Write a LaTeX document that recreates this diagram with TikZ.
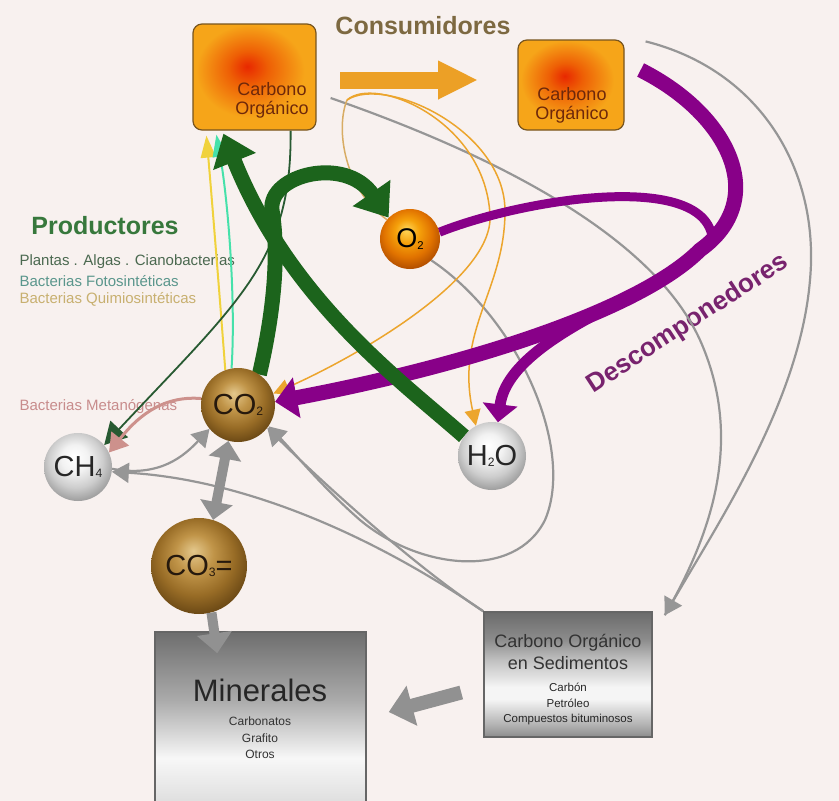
\documentclass[tikz,border=0pt]{standalone}
\usepackage{fontspec}
\setmainfont{Liberation Sans}
\usepackage{graphicx}
\usetikzlibrary{arrows.meta,calc}
\definecolor{bgc}{RGB}{248,241,239}
\definecolor{dkgreen}{RGB}{28,100,28}
\definecolor{purp}{RGB}{136,0,136}
\definecolor{orng}{RGB}{236,160,38}
\definecolor{thinor}{RGB}{236,165,45}
\definecolor{tanor}{RGB}{216,172,100}
\definecolor{graya}{RGB}{150,150,150}
\definecolor{grayb}{RGB}{145,145,145}
\definecolor{consc}{RGB}{125,105,65}
\definecolor{prodc}{RGB}{55,120,60}
\definecolor{decc}{RGB}{120,35,110}
\definecolor{yel}{RGB}{240,210,60}
\definecolor{aqua}{RGB}{70,225,170}
\definecolor{pinkc}{RGB}{205,145,140}
\definecolor{thingreen}{RGB}{40,90,50}
\definecolor{t1c}{RGB}{75,105,80}
\definecolor{t2c}{RGB}{90,150,140}
\definecolor{t3c}{RGB}{200,176,112}
\definecolor{t4c}{RGB}{200,140,140}
\definecolor{boxtc}{RGB}{110,40,10}
\definecolor{boxin}{RGB}{232,40,0}
\definecolor{boxmid}{RGB}{238,95,5}
\definecolor{boxout}{RGB}{246,165,25}
\definecolor{boxdr}{RGB}{120,85,30}
\definecolor{oc1}{RGB}{255,215,90}
\definecolor{oc2}{RGB}{245,160,10}
\definecolor{oc3}{RGB}{225,115,0}
\definecolor{oc4}{RGB}{180,80,0}
\definecolor{cc1}{RGB}{228,200,140}
\definecolor{cc2}{RGB}{192,148,72}
\definecolor{cc3}{RGB}{152,108,38}
\definecolor{cc4}{RGB}{110,75,22}
\definecolor{wc1}{RGB}{255,255,255}
\definecolor{wc2}{RGB}{242,242,242}
\definecolor{wc3}{RGB}{205,205,205}
\definecolor{wc4}{RGB}{160,160,160}
\definecolor{gm1}{gray}{0.85}
\definecolor{gm2}{gray}{0.9}
\definecolor{gm3}{gray}{0.97}
\definecolor{gm4}{gray}{0.67}
\definecolor{gm5}{gray}{0.43}
\definecolor{gs1}{gray}{0.55}
\definecolor{gs2}{gray}{0.7}
\definecolor{gs3}{gray}{0.96}
\definecolor{gs4}{gray}{0.75}
\definecolor{gs5}{gray}{0.42}
\pgfdeclareverticalshading{minshade}{100bp}{color(0bp)=(gm1); color(25bp)=(gm1); color(31bp)=(gm2); color(40bp)=(gm3); color(56bp)=(gm4); color(75bp)=(gm5); color(100bp)=(gm5)}
\pgfdeclareverticalshading{sedshade}{100bp}{color(0bp)=(gs1); color(25bp)=(gs1); color(30bp)=(gs2); color(40bp)=(gs3); color(45bp)=(gs3); color(56bp)=(gs4); color(64bp)=(gs1); color(75bp)=(gs5); color(100bp)=(gs5)}
\pgfdeclareradialshading{sphO}{\pgfpoint{-3bp}{8bp}}{color(0bp)=(oc1); color(10bp)=(oc2); color(20bp)=(oc3); color(28bp)=(oc4); color(50bp)=(oc4)}
\pgfdeclareradialshading{sphC}{\pgfpoint{-3bp}{8bp}}{color(0bp)=(cc1); color(10bp)=(cc2); color(20bp)=(cc3); color(28bp)=(cc4); color(50bp)=(cc4)}
\pgfdeclareradialshading{sphW}{\pgfpoint{-3bp}{8bp}}{color(0bp)=(wc1); color(10bp)=(wc2); color(20bp)=(wc3); color(28bp)=(wc4); color(50bp)=(wc4)}
\pgfdeclareradialshading{boxsh}{\pgfpoint{-3bp}{5bp}}{color(0bp)=(boxin); color(8bp)=(boxmid); color(22bp)=(boxout); color(50bp)=(boxout)}
\newcommand\fsz[1]{\fontsize{#1}{#1}\selectfont}
\newcommand\chs[1]{\raisebox{-0.05em}{\scalebox{0.42}{#1}}}
\pgfdeclarelayer{back}
\pgfdeclarelayer{conn}
\pgfsetlayers{back,conn,main}
\begin{document}
\begin{tikzpicture}[x=1pt,y=-1pt,
  sph/.style={circle, inner sep=0pt, font=\fsz{29}},
  topbox/.style={rectangle, rounded corners=9pt, draw=boxdr, line width=1.2pt, shading=boxsh},
  boxtxt/.style={align=center, font=\fontsize{18}{19}\selectfont, text=boxtc},
  graybox/.style={rectangle, draw=black!60, line width=1.5pt},
  garrow/.style={draw=dkgreen, line width=15pt, -{Triangle[length=30pt,width=44pt]}},
  parrow/.style={draw=purp, line width=15pt, -{Triangle[length=22pt,width=40pt]}},
  gthin/.style={draw=graya, line width=2.2pt},
  gtip/.style={-{Triangle[length=17pt,width=20pt]}},
  othin/.style={draw=thinor, line width=1.5pt},
  otip/.style={-{Triangle[length=16pt,width=16pt]}},
  gthick/.style={draw=grayb, line width=10pt},
  lefttxt/.style={anchor=west, font=\fsz{15}}
]
\begin{pgfonlayer}{back}
\fill[bgc] (0,0) rectangle (839,801);
\node[lefttxt, text=t1c] (t1) at (16,262) {Plantas . Algas . Cianobacterias};
\node[lefttxt, text=t2c] (t2) at (16,281) {Bacterias Fotosintéticas};
\node[lefttxt, text=t3c] (t3) at (16,299) {Bacterias Quimiosintéticas};
\node[lefttxt, text=t4c] (t4) at (16,407) {Bacterias Metanógenas};
\node[font=\bfseries\fsz{25}, text=prodc] (prod) at (105,226) {Productores};
\node[font=\bfseries\fsz{25}, text=consc] (cons) at (423,26) {Consumidores};
\node[rotate=33, font=\bfseries\fsz{26}, text=decc] (desc) at (688,324) {Descomponedores};
\end{pgfonlayer}
\useasboundingbox (0,0) rectangle (839,801);
\clip (0,0) rectangle (839,801);

% boxes
\node[topbox, minimum width=123pt, minimum height=106pt] (tl) at (254.5,77) {};
\node[boxtxt] (tlt) at (272,100) {Carbono\\Orgánico};
\node[topbox, minimum width=106pt, minimum height=90pt] (tr) at (571,85) {};
\node[boxtxt] (trt) at (572,105) {Carbono\\Orgánico};
\node[graybox, shading=minshade, minimum width=211pt, minimum height=180pt] (min) at (260.5,722) {};
\node[font=\fsz{31}, text=black!85] (mint) at (260,690) {Minerales};
\node[align=center, font=\fontsize{12}{16.5}\selectfont, text=black!80] (minl) at (260,738) {Carbonatos\\Grafito\\Otros};
\node[graybox, shading=sedshade, minimum width=168pt, minimum height=125pt] (sed) at (568,674.5) {};
\node[align=center, font=\fontsize{18}{22}\selectfont, text=black!80] (sedt) at (568,652) {Carbono Orgánico\\en Sedimentos};
\node[align=center, font=\fontsize{11.5}{15.5}\selectfont, text=black!85] (sedl) at (568,704) {Carbón\\Petróleo\\Compuestos bituminosos};

% spheres
\node[sph, shading=sphO, minimum size=60pt, font=\fsz{27}] (o2) at (410,239) {O\chs{2}};
\node[sph, shading=sphC, minimum size=74pt, text=black!80!brown] (co2) at (238,405) {CO\chs{2}};
\node[sph, shading=sphW, minimum size=68pt, text=black!85] (h2o) at (492,456) {H\chs{2}O};
\node[sph, shading=sphW, minimum size=68pt, text=black!85] (ch4) at (78,467) {CH\chs{4}};
\node[sph, shading=sphC, minimum size=96pt, text=black!80!brown] (co3) at (199,566) {CO\chs{3}=};

% helper coordinates
\coordinate (tlg) at ($(tl.east)+(14,21)$);
\coordinate (trg) at ($(tr.north east)+(21,2)$);
\coordinate (pst) at ($(tr.east)+(16,-15)$);
\coordinate (sedtip) at ($(sed.north east)+(12,4)$);
\coordinate (tlY) at ($(tl.south west)+(14,5)$);
\coordinate (tlA) at ($(tl.south west)+(24,4)$);
\coordinate (tlG) at ($(tl.south west)+(31,3)$);
\coordinate (tlT) at ($(tl.south east)+(-26,0)$);
\coordinate (cs) at (340,80);
\coordinate (ce) at (478,80);
\coordinate (orgA) at ($(cs)+(7,20)$);
\coordinate (minTip) at ($(min.north west)+(63,22)$);
\coordinate (sedArrowS) at ($(sed.west)+(-22,18)$);
\coordinate (minArrowE) at ($(min.east)+(22,-10)$);
\coordinate (pbr) at (636,294);

\begin{pgfonlayer}{conn}
% gray thin lines
\draw[gthin] (tlg) .. controls (480,150) and (650,230) .. (700,340) .. controls (740,430) and (720,520) .. (sedtip);
\draw[gthin, gtip] (trg) .. controls (760,70) and (820,170) .. (810,280) .. controls (800,400) and (720,520) .. (sedtip);
\draw[gthin, gtip] (o2.-45) .. controls (520,320) and (575,450) .. (545,520) .. controls (515,580) and (420,570) .. (360,520) .. controls (320,485) and (292,450) .. (co2.-35);
\draw[gthin, gtip] (sed.north west) .. controls (420,570) and (330,490) .. (co2.-38);
\draw[gthin, gtip] (sed.north west) .. controls (380,540) and (250,480) .. (ch4.-8);
\draw[gthin, gtip] (ch4.-3) .. controls (160,478) and (185,455) .. (co2.-140);
% thick gray
\draw[gthick, {Triangle[length=18pt,width=32pt]}-{Triangle[length=18pt,width=32pt]}] (co2.-105) -- (co3.73);
\draw[gthick, line width=14pt, -{Triangle[length=24pt,width=40pt]}] (sedArrowS) -- (minArrowE);
% orange thin
\draw[othin, draw=tanor] (orgA) .. controls (335,130) and (345,190) .. (o2.140);
\draw[othin, otip] (orgA) .. controls (375,75) and (485,120) .. (490,215) .. controls (494,280) and (350,360) .. (co2.18);
\draw[othin, otip] (orgA) .. controls (385,75) and (505,130) .. (505,211) .. controls (505,290) and (455,330) .. (h2o.118);
% producers thin
\draw[yel, line width=2pt, -{Triangle[length=22pt,width=15pt]}] (co2.110) .. controls (220,300) and (212,200) .. (tlY);
\draw[aqua, line width=2pt, -{Triangle[length=22pt,width=15pt]}] (co2.100) .. controls (236,300) and (228,200) .. (tlA);
\draw[thingreen, line width=1.8pt, -{Triangle[length=22pt,width=24pt]}] (tlT) .. controls (292,260) and (240,300) .. (ch4.40);
\draw[pinkc, line width=3pt, -{Triangle[length=18pt,width=22pt]}] (co2.170) .. controls (160,395) and (135,420) .. (ch4.25);
% purple
\draw[purp, line width=9pt] (o2.13) .. controls (520,200) and (700,170) .. (712,236);
\draw[parrow] (pst) .. controls (730,115) and (770,200) .. (700,250) .. controls (640,310) and (470,365) .. (co2.5);
\draw[purp, line width=11pt, -{Triangle[length=18pt,width=34pt]}] (pbr) .. controls (560,330) and (505,365) .. (h2o.80);
% green
\draw[garrow] (co2.55) .. controls (272,320) and (280,260) .. (272,210) .. controls (268,175) and (345,155) .. (o2.135);
\draw[garrow] (h2o.145) .. controls (400,380) and (290,300) .. (tlG);
% consumer arrow
\draw[orng, line width=17pt, -{Triangle[length=40pt,width=36pt]}] (cs) -- (ce);
\end{pgfonlayer}
\draw[gthick, -{Triangle[length=20pt,width=34pt]}] (co3.-75) -- (minTip);
\end{tikzpicture}
\end{document}
